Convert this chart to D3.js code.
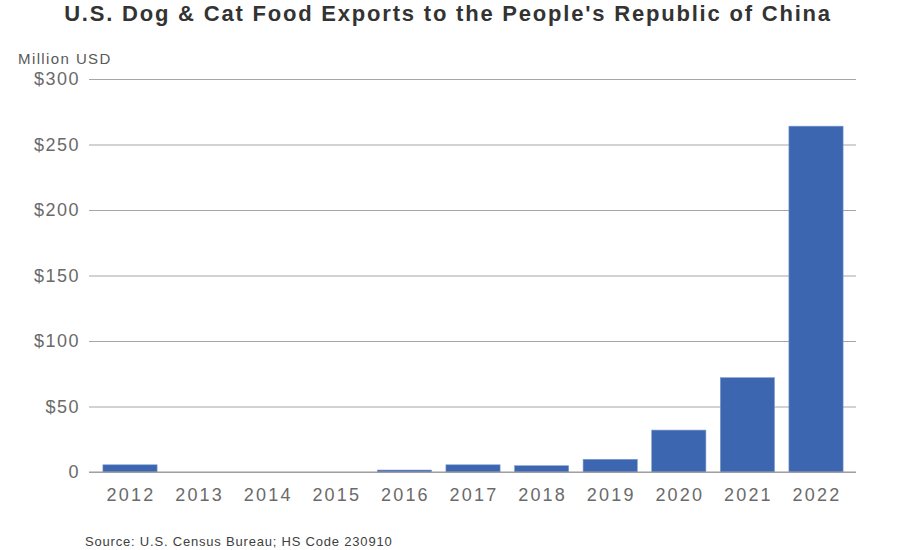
<!DOCTYPE html>
<html><head><meta charset="utf-8">
<script src="https://cdn.jsdelivr.net/npm/d3@7"></script>
<style>body{margin:0;background:#fff;}svg{display:block;font-family:"Liberation Sans",Arial,sans-serif;}</style>
</head><body>
<svg id="c" width="900" height="550"></svg>
<script>
const years = ["2012","2013","2014","2015","2016","2017","2018","2019","2020","2021","2022"];
const values = [5.5,0,0,0,1.5,5.5,4.8,9.7,32,72,264];
const yTicks = [0,50,100,150,200,250,300];
const yTickLabels = ["0","$50","$100","$150","$200","$250","$300"];

const svg = d3.select("#c");
const gridL = 89, gridR = 856;
const y = d3.scaleLinear().domain([0,300]).range([472,79]);
const x = d3.scaleBand().domain(years).range([95.7,850.3]).paddingInner(0.21).paddingOuter(0.105);

svg.append("text").attr("x",448).attr("y",21).attr("text-anchor","middle")
  .attr("font-size",22).attr("font-weight","bold").attr("fill","#333").attr("letter-spacing",1.8)
  .text("U.S. Dog & Cat Food Exports to the People's Republic of China");

svg.append("text").attr("x",18).attr("y",64).attr("font-size",15).attr("fill","#595959").attr("letter-spacing",1.4).text("Million USD");

const yAxis = d3.axisLeft(y).tickValues(yTicks).tickSize(-(gridR-gridL)).tickPadding(9)
  .tickFormat((d,i)=>yTickLabels[i]);
const gy = svg.append("g").attr("transform",`translate(${gridL},0)`).call(yAxis);
gy.select(".domain").remove();
gy.selectAll(".tick line").attr("stroke","#a6a6a6").attr("stroke-width",1);
gy.selectAll(".tick text").attr("font-size",18).attr("fill","#6a6a6a").attr("letter-spacing",1.5).attr("font-family","Liberation Sans, Arial, sans-serif");

svg.append("g").selectAll("rect").data(values).join("rect")
  .attr("x",(d,i)=>x(years[i])).attr("width",x.bandwidth())
  .attr("y",d=>y(d)).attr("height",d=>y(0)-y(d))
  .attr("fill","#3c66b0").attr("stroke","#7f9bd0").attr("stroke-width",0.6);

svg.append("line").attr("x1",gridL).attr("x2",gridR).attr("y1",y(0)).attr("y2",y(0)).attr("stroke","#999").attr("stroke-width",1.2);

const xAxis = d3.axisBottom(x).tickSize(0).tickPadding(16);
const gx = svg.append("g").attr("transform",`translate(1,${y(0)})`).call(xAxis);
gx.select(".domain").remove();
gx.selectAll(".tick text").attr("font-size",18).attr("fill","#6a6a6a").attr("letter-spacing",2.2).attr("font-family","Liberation Sans, Arial, sans-serif");

svg.append("text").attr("x",85).attr("y",546).attr("font-size",13).attr("fill","#404040").attr("letter-spacing",0.8)
  .text("Source: U.S. Census Bureau; HS Code 230910");
</script>
</body></html>
